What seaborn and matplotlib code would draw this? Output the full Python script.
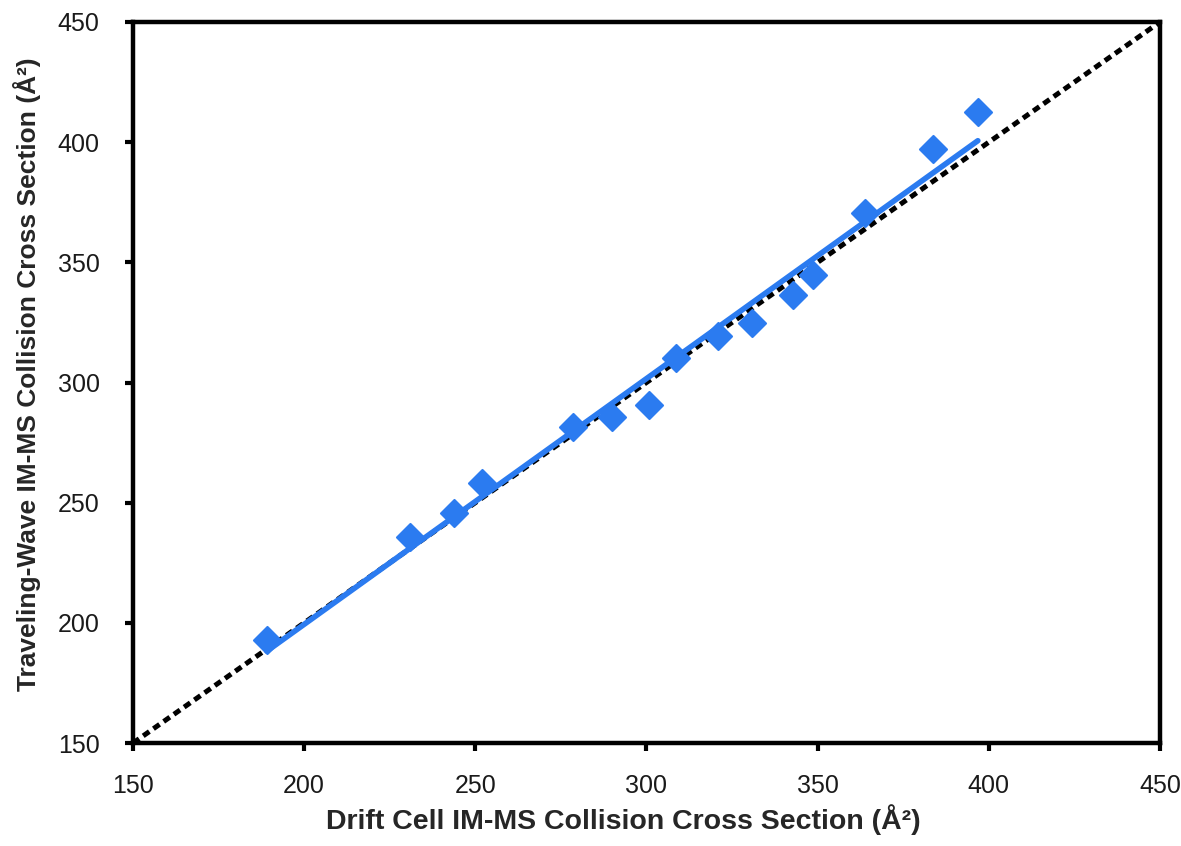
import numpy as np
import pandas as pd
import matplotlib
matplotlib.use("Agg")
import matplotlib.pyplot as plt
import seaborn as sns

drift_ccs = [189.1, 230.9, 243.8, 252.0, 278.5, 289.8, 300.7, 308.5, 320.9, 330.7, 342.8, 348.7, 363.8, 383.7, 396.8]
twave_ccs = [192.9, 235.9, 245.7, 258.2, 281.6, 285.8, 290.7, 310.2, 319.5, 324.8, 336.4, 344.8, 370.6, 397.2, 412.7]
ticks = [150, 200, 250, 300, 350, 400, 450]
identity = [150, 450]

df = pd.DataFrame({"drift": drift_ccs, "twave": twave_ccs})

sns.set_theme(style="white")
plt.rcParams['font.family'] = ['Liberation Sans', 'DejaVu Sans']

fig = plt.figure(figsize=(11.81, 8.46), dpi=100)
ax = fig.add_axes([0.1126, 0.1217, 0.8696, 0.8523])

blue = '#2B7BF0'
ax.plot(identity, identity, color='black', linestyle=(0, (1.5, 1.0)), linewidth=3.6, zorder=2)
sns.regplot(data=df, x="drift", y="twave", scatter=False, ci=None, truncate=True,
            line_kws=dict(color=blue, linewidth=4, solid_capstyle='round', zorder=3), ax=ax)
sns.scatterplot(data=df, x="drift", y="twave", marker='D', s=190, color=blue,
                edgecolor=blue, linewidth=1.5, zorder=4, ax=ax)

ax.set_xlim(150, 450)
ax.set_ylim(150, 450)
ax.set_xticks(ticks)
ax.set_yticks(ticks)
ax.set_xticklabels([str(t) for t in ticks])
ax.set_yticklabels([str(t) for t in ticks])
for s in ax.spines.values():
    s.set_visible(True)
    s.set_linewidth(3.2)
    s.set_color('black')
ax.tick_params(axis='x', direction='out', length=6, width=3, bottom=True, pad=16, labelsize=18, colors='black')
ax.tick_params(axis='y', direction='out', length=6, width=3, left=True, pad=18, labelsize=18, colors='black')
for lbl in ax.get_xticklabels() + ax.get_yticklabels():
    lbl.set_color('#1a1a1a')

ax.set_xlabel("Drift Cell IM-MS Collision Cross Section (Å²)", fontsize=20.5, fontweight='bold', labelpad=5)
ax.set_ylabel("Traveling-Wave IM-MS Collision Cross Section (Å²)", fontsize=19, fontweight='bold', labelpad=12)
ax.xaxis.label.set_x(0.477)
ax.yaxis.label.set_y(0.512)
ax.grid(False)

fig.savefig("out.png", dpi=100)
